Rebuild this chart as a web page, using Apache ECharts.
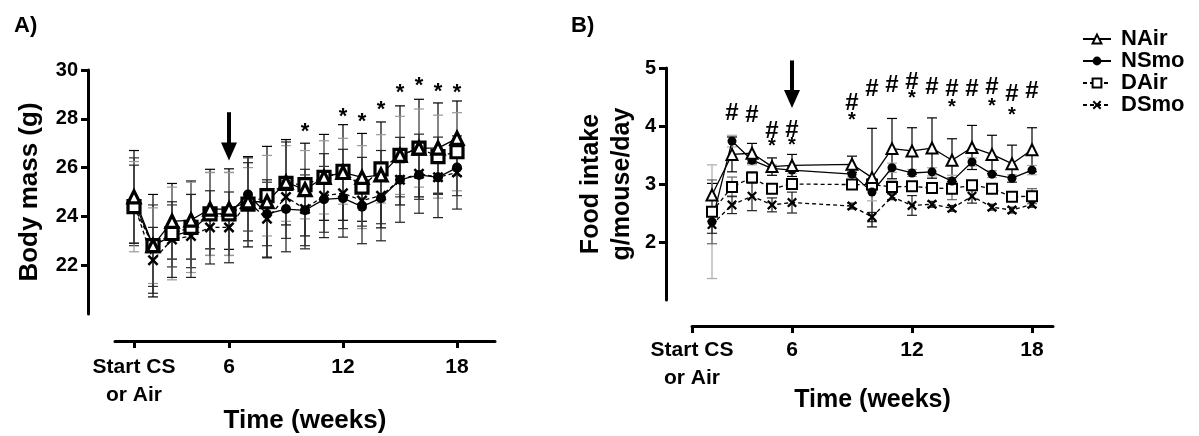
<!DOCTYPE html>
<html>
<head>
<meta charset="utf-8">
<script src="https://cdn.jsdelivr.net/npm/echarts@6/dist/echarts.min.js"></script>
<style>html,body{margin:0;padding:0;background:#fff}#c{width:1199px;height:436px}</style>
</head>
<body>
<div id="c"></div>
<script>
// ---------- Panel A: body mass ----------
const weeksA = [1,2,3,4,5,6,7,8,9,10,11,12,13,14,15,16,17,18];
const nAirA = [24.8,22.8,23.8,23.85,24.3,24.3,24.6,24.6,25.4,25.1,25.6,25.8,25.6,25.7,26.5,26.8,26.8,27.2];
const nSmoA = [24.6,22.8,23.2,23.4,24.1,24.1,24.9,24.1,24.3,24.25,24.7,24.75,24.4,24.75,25.5,25.7,25.6,26.0];
const dAirA = [24.4,22.8,23.3,23.55,24.1,24.1,24.5,24.85,25.35,25.3,25.6,25.85,25.2,25.95,26.5,26.8,26.45,26.65];
const dSmoA = [24.5,22.2,23.05,23.2,23.55,23.55,24.6,23.9,24.8,24.3,24.85,24.95,24.65,24.85,25.5,25.75,25.6,25.8];
const nAirSdA = [1.9,2.1,1.55,1.6,1.63,1.65,1.85,2.27,1.75,1.9,1.76,1.96,1.8,2.17,2.03,2.0,1.85,1.53];
const nSmoSdA = [1.8,1.67,1.27,1.5,1.7,1.7,1.5,1.3,1.2,1.45,1.35,1.25,0.8,1.05,0.7,1.0,0.7,1.15];
const dAirSdA = [1.85,1.55,1.9,1.85,1.7,1.7,1.5,1.65,1.55,1.4,1.5,1.35,1.7,1.4,1.6,1.6,1.7,1.6];
const dSmoSdA = [1.6,1.35,1.55,1.7,1.5,1.45,1.6,1.6,2.25,1.63,1.72,1.8,1.77,1.85,1.74,1.62,1.65,1.5];
const starWeeksA = [10,12,13,14,15,16,17,18];
const starYA = [27.46,28.06,27.87,28.35,29.05,29.34,29.1,29.08];
const arrowA = [6, 28.27, 26.29];

// ---------- Panel B: food intake ----------
const weeksB = [2,3,4,5,6,9,10,11,12,13,14,15,16,17,18];
const nAirB = [2.81,3.51,3.53,3.30,3.32,3.34,3.11,3.61,3.57,3.62,3.41,3.63,3.51,3.35,3.59];
const nSmoB = [2.35,3.74,3.41,3.27,3.24,3.17,2.86,3.28,3.19,3.21,3.05,3.38,3.17,3.10,3.24];
const dAirB = [2.52,2.95,3.11,2.92,3.00,2.99,2.99,2.95,2.96,2.93,2.92,2.98,2.92,2.78,2.79];
const dSmoB = [2.30,2.64,2.79,2.64,2.68,2.62,2.43,2.78,2.63,2.65,2.58,2.79,2.60,2.55,2.65];
const nAirSdB = [0.2,0.3,0.17,0.15,0.19,0.14,0.85,0.52,0.40,0.52,0.37,0.38,0.33,0.32,0.38];
const nSmoSdB = [0.98,0.1,0.08,0.06,0.06,0.05,0.15,0.08,0.06,0.07,0.1,0.07,0.06,0.06,0.08];
const dAirSdB = [0.55,0.17,0.1,0.08,0.05,0.05,0.1,0.1,0.07,0.07,0.19,0.07,0.05,0.05,0.13];
const dSmoSdB = [0.15,0.15,0.25,0.12,0.18,0.05,0.08,0.05,0.17,0.05,0.05,0.12,0.05,0.05,0.05];
const hashWeeksB = [3,4,5,6,9,10,11,12,13,14,15,16,17,18];
const hashYB = [4.21,4.18,3.90,3.93,4.39,4.63,4.70,4.76,4.67,4.64,4.64,4.67,4.55,4.59];
const starWeeksB = [5,6,9,12,14,16,17];
const starYB = [3.64,3.67,4.10,4.47,4.32,4.33,4.18];
const arrowB = [6, 5.13, 4.31];

// ---------- Axes / labels ----------
const xTickValues = [1,6,12,18];
const xTickLabels = ['Start CS\nor Air','6','12','18'];
const yTicksA = [22,24,26,28,30];
const yTicksB = [2,3,4,5];
const seriesNames = ['NAir','NSmo','DAir','DSmo'];

const FONT = '"Liberation Sans", Arial, Helvetica, sans-serif';
const X_PATH = 'path://M0,1.6L1.6,0L5,3.4L8.4,0L10,1.6L6.6,5L10,8.4L8.4,10L5,6.6L1.6,10L0,8.4L3.4,5Z';

function pairs(xs, ys){ return xs.map((x,i)=>[x, ys[i]]); }
function errData(xs, ys, sd){ return xs.map((x,i)=>[x, ys[i]-sd[i], ys[i]+sd[i]]); }

function errSeries(idx, xs, ys, sd, color, capHalf){
  return {
    type:'custom', xAxisIndex:idx, yAxisIndex:idx, z:1, silent:true,
    data: errData(xs, ys, sd),
    renderItem: function(params, api){
      const x = api.value(0), lo = api.value(1), hi = api.value(2);
      const p1 = api.coord([x, hi]), p2 = api.coord([x, lo]);
      const st = {stroke:color, lineWidth:1.2};
      return {type:'group', children:[
        {type:'line', shape:{x1:p1[0],y1:p1[1],x2:p2[0],y2:p2[1]}, style:st},
        {type:'line', shape:{x1:p1[0]-capHalf,y1:p1[1],x2:p1[0]+capHalf,y2:p1[1]}, style:st},
        {type:'line', shape:{x1:p2[0]-capHalf,y1:p2[1],x2:p2[0]+capHalf,y2:p2[1]}, style:st}
      ]};
    }
  };
}

function textSeries(idx, xs, ys, txt, size){
  return {
    type:'custom', xAxisIndex:idx, yAxisIndex:idx, z:5, silent:true,
    data: pairs(xs, ys),
    renderItem: function(params, api){
      const p = api.coord([api.value(0), api.value(1)]);
      return {type:'text', x:p[0], y:p[1], style:{text:txt, fill:'#000',
        font:'bold '+size+'px '+FONT, align:'center', verticalAlign:'middle'}};
    }
  };
}

function arrowSeries(idx, a){
  return {
    type:'custom', xAxisIndex:idx, yAxisIndex:idx, z:5, silent:true, clip:false,
    data: [a],
    renderItem: function(params, api){
      const top = api.coord([api.value(0), api.value(1)]);
      const tip = api.coord([api.value(0), api.value(2)]);
      const headH = 18, headW = 8;
      return {type:'group', children:[
        {type:'line', shape:{x1:top[0],y1:top[1],x2:tip[0],y2:tip[1]-headH+2}, style:{stroke:'#000', lineWidth:4}},
        {type:'polygon', shape:{points:[[tip[0]-headW,tip[1]-headH],[tip[0]+headW,tip[1]-headH],[tip[0],tip[1]]]}, style:{fill:'#000'}}
      ]};
    }
  };
}

function lineSeries(idx, name, xs, ys, big){
  const base = {type:'line', name:name, xAxisIndex:idx, yAxisIndex:idx, z:3,
    data: pairs(xs, ys), symbolKeepAspect:true};
  const bw = big ? 3.2 : 2;
  if (name === 'NAir') Object.assign(base, {symbol:'triangle', symbolSize: big?12:11,
    lineStyle:{color:'#000', width:1.3, type:'solid'}, itemStyle:{color:'#fff', borderColor:'#000', borderWidth:bw}});
  if (name === 'NSmo') Object.assign(base, {symbol:'circle', symbolSize: big?10:9,
    lineStyle:{color:'#000', width:1.3, type:'solid'}, itemStyle:{color:'#000', borderColor:'#000', borderWidth:0}});
  if (name === 'DAir') Object.assign(base, {symbol:'rect', symbolSize: big?12:10,
    lineStyle:{color:'#000', width:1.3, type:[4,3]}, itemStyle:{color:'#fff', borderColor:'#000', borderWidth:bw}});
  if (name === 'DSmo') Object.assign(base, {symbol:X_PATH, symbolSize: big?11:10,
    lineStyle:{color:'#000', width:1.3, type:[4,3]}, itemStyle:{color:'#000', borderWidth:0}});
  return base;
}

const axisLineStyle = {color:'#000', width:3};
function tickStyle(size){ return {color:'#000', fontSize:size, fontWeight:'bold', fontFamily:FONT}; }
function nameStyle(size){ return {color:'#000', fontSize:size, fontWeight:'bold', fontFamily:FONT}; }

function xAxisDef(idx, min, max, offset, margin, gap, nameSize){
  return {
    type:'value', gridIndex:idx, min:min, max:max, offset:offset,
    splitLine:{show:false},
    axisLine:{show:true, onZero:false, lineStyle:axisLineStyle},
    axisTick:{show:true, length:7, lineStyle:{color:'#000', width:3}, customValues:xTickValues},
    axisLabel:Object.assign({margin:margin, lineHeight:28, customValues:xTickValues,
      formatter:function(v){ const i = xTickValues.indexOf(v); return i>=0 ? xTickLabels[i] : ''; }}, tickStyle(21)),
    name:'Time (weeks)', nameLocation:'middle', nameGap:gap, nameMoveOverlap:false,
    nameTextStyle:nameStyle(nameSize)
  };
}
function yAxisDef(idx, min, max, ticks, offset, name, gap, lh, nameSize){
  return {
    type:'value', gridIndex:idx, min:min, max:max, offset:offset,
    splitLine:{show:false},
    axisLine:{show:true, onZero:false, lineStyle:axisLineStyle},
    axisTick:{show:true, length:7, lineStyle:{color:'#000', width:3}, customValues:ticks},
    axisLabel:Object.assign({margin:10, customValues:ticks}, tickStyle(20)),
    name:name, nameLocation:'middle', nameGap:gap, nameRotate:90, nameMoveOverlap:false,
    nameTextStyle:Object.assign({lineHeight:lh}, nameStyle(nameSize))
  };
}

const series = [
  errSeries(0, weeksA, nAirA, nAirSdA, '#000', 5),
  errSeries(0, weeksA, nSmoA, nSmoSdA, '#333', 5),
  errSeries(0, weeksA, dAirA, dAirSdA, '#999', 5),
  errSeries(0, weeksA, dSmoA, dSmoSdA, '#222', 5),
  lineSeries(0, 'DSmo', weeksA, dSmoA, true),
  lineSeries(0, 'NSmo', weeksA, nSmoA, true),
  lineSeries(0, 'DAir', weeksA, dAirA, true),
  lineSeries(0, 'NAir', weeksA, nAirA, true),
  textSeries(0, starWeeksA, starYA, '*', 22),
  arrowSeries(0, arrowA),

  errSeries(1, weeksB, nAirB, nAirSdB, '#000', 5),
  errSeries(1, weeksB, nSmoB, nSmoSdB, '#aaa', 5),
  errSeries(1, weeksB, dAirB, dAirSdB, '#666', 5),
  errSeries(1, weeksB, dSmoB, dSmoSdB, '#222', 5),
  lineSeries(1, 'DSmo', weeksB, dSmoB, false),
  lineSeries(1, 'DAir', weeksB, dAirB, false),
  lineSeries(1, 'NSmo', weeksB, nSmoB, false),
  lineSeries(1, 'NAir', weeksB, nAirB, false),
  textSeries(1, hashWeeksB, hashYB, '#', 24),
  textSeries(1, starWeeksB, starYB, '*', 20),
  arrowSeries(1, arrowB)
];

const chart = echarts.init(document.getElementById('c'), null, {renderer:'canvas'});
chart.setOption({
  animation:false,
  backgroundColor:'#fff',
  title:[
    {text:'A)', left:9, top:10, textStyle:{color:'#000', fontSize:22, fontWeight:'bold', fontFamily:FONT}},
    {text:'B)', left:566, top:10, textStyle:{color:'#000', fontSize:22, fontWeight:'bold', fontFamily:FONT}}
  ],
  legend:{
    data:seriesNames, orient:'vertical', left:1077, top:23, itemGap:0,
    itemWidth:28, itemHeight:11,
    textStyle:{color:'#000', fontSize:22, fontWeight:'bold', fontFamily:FONT, lineHeight:22, padding:[0,0,0,5]}
  },
  grid:[
    {left:115, top:70, width:380, height:244, outerBoundsMode:'none', containLabel:false},
    {left:692, top:68, width:361, height:232, outerBoundsMode:'none', containLabel:false}
  ],
  xAxis:[
    xAxisDef(0, 0, 20, 27, 12, 67, 26),
    xAxisDef(1, 1, 19.05, 26, 10, 62, 25)
  ],
  yAxis:[
    yAxisDef(0, 20, 30, yTicksA, 27, 'Body mass (g)', 43, 30, 26),
    yAxisDef(1, 1, 5, yTicksB, 26, 'Food intake\ng/mouse/day', 28, 31, 25)
  ],
  series:series
});
</script>
</body>
</html>
